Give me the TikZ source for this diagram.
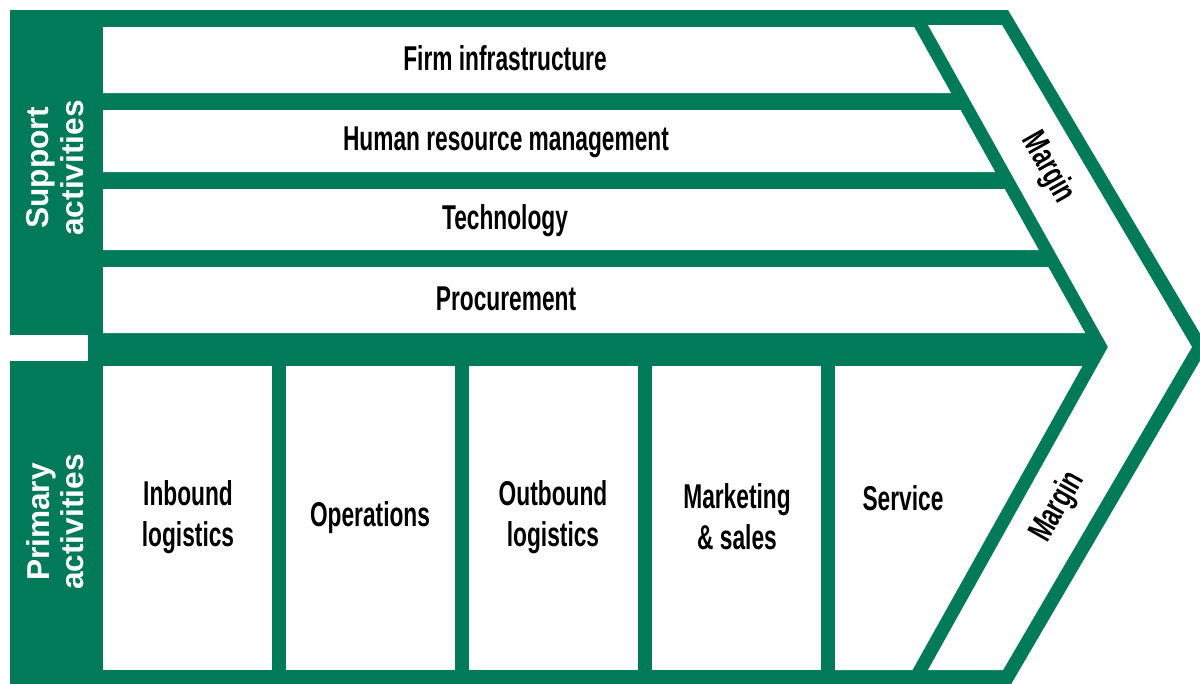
\documentclass[tikz,border=0pt]{standalone}
\usepackage{fontspec}
\setmainfont{Liberation Sans}
\newfontfamily\cond[FakeStretch=0.66]{Liberation Sans}

\definecolor{chaingreen}{RGB}{0,122,88}

\begin{document}
\begin{tikzpicture}[x=0.1mm,y=-0.1mm]
\tikzset{ inner sep=0pt, outer sep=0pt,
  act/.style={font=\cond\bfseries\fontsize{9.8}{11.6}\selectfont, align=center},
  side/.style={font=\bfseries\fontsize{9}{9.8}\selectfont, text=white, align=center, rotate=90},
}
\useasboundingbox (0,0) rectangle (1200,683);
\clip (0,0) rectangle (1200,683);
%\draw [lightgray, dashed] (0,0) grid[step=100] (1200,683);

% green chevron
\fill [chaingreen] (10,10) -- (1008,10) -- (1208,347) -- (1010,686) -- (10,686) -- cycle;

% gap between the two side panels
\fill [white] (4,335) rectangle (88,361);

% margin band
\fill [white] (928,25) -- (1002,25) -- (1192,347) -- (1003,670)
              -- (928,670) -- (1108,347) -- cycle;

% support rows
\fill [white] (103,27)  -- (914.1,27)  -- (951.0,93)  -- (103,93)  -- cycle;
\fill [white] (103,110) -- (960.5,110) -- (995.2,172) -- (103,172) -- cycle;
\fill [white] (103,189) -- (1004.7,189) -- (1038.8,250) -- (103,250) -- cycle;
\fill [white] (103,267) -- (1048.3,267) -- (1085.2,333) -- (103,333) -- cycle;

% primary cells
\foreach \i in {0,...,3}
  \fill [white] ({103+183*\i},366) rectangle ++(169,304);
\fill [white] (835,366) -- (1082.4,366) -- (912.4,670) -- (835,670) -- cycle;

\node [side] (SA) at (55,168) {Support\\activities};
\node [side] (PA) at (55,522) {Primary\\activities};

\node [act] (FI) at (505,58)  {Firm infrastructure};
\node [act] (HR) at (506,142) {Human resource management};
\node [act] (TE) at (505,221) {Technology};
\node [act] (PR) at (506,299) {Procurement};

\node [act] (IL) at (188,517) {Inbound\\logistics};
\node [act] (OP) at (370,518) {Operations};
\node [act] (OL) at (553,517) {Outbound\\logistics};
\node [act] (MS) at (737,517) {Marketing\\\& sales};
\node [act] (SE) at (903,498) {Service};

\node [act, rotate=-60.5] (M1) at (1048,168) {Margin};
\node [act, rotate=60.5]  (M2) at (1058,507) {Margin};

\end{tikzpicture}
\end{document}
